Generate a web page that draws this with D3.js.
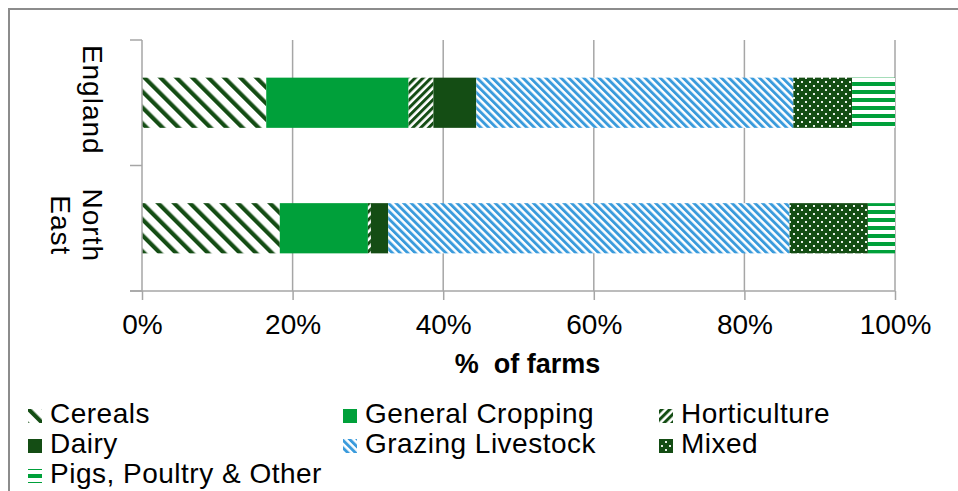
<!DOCTYPE html>
<html>
<head>
<meta charset="utf-8">
<script src="https://cdn.jsdelivr.net/npm/d3@7"></script>
<style>
  html, body { margin: 0; padding: 0; background: #fff; }
  svg { display: block; font-family: "Liberation Sans", Arial, sans-serif; }
</style>
</head>
<body>
<svg id="chart" width="958" height="491"></svg>
<script>
// ---- data ----
const categories = ["England", "North East"];
const categoryLines = [["England"], ["North", "East"]];
const seriesNames = ["Cereals", "General Cropping", "Horticulture", "Dairy", "Grazing Livestock", "Mixed", "Pigs, Poultry & Other"];
const englandValues = [16.5, 18.9, 3.3, 5.7, 42.1, 7.8, 5.7];
const northEastValues = [18.3, 11.7, 0.4, 2.3, 53.3, 10.4, 3.6];
const xTickValues = [0, 20, 40, 60, 80, 100];
const xTickLabels = ["0%", "20%", "40%", "60%", "80%", "100%"];
const xAxisTitle = "%  of farms";

// ---- setup ----
const svg = d3.select("#chart");
const margin = {left: 142, right: 63, top: 40, bottom: 200};
const W = 958, H = 491;

const darkGreen = "#144d14";
const midGreen = "#00a03a";
const blue = "#3a9bdc";

// patterns
const defs = svg.append("defs");
function stripePattern(id, color, period, thick, angle) {
  const p = defs.append("pattern").attr("id", id)
    .attr("patternUnits", "userSpaceOnUse")
    .attr("width", period).attr("height", period)
    .attr("patternTransform", `rotate(${angle})`);
  p.append("rect").attr("width", period).attr("height", period).attr("fill", "#fff");
  p.append("rect").attr("x", 0).attr("y", 0).attr("width", thick).attr("height", period).attr("fill", color);
}
stripePattern("pCereals", darkGreen, 11.3, 4.2, -45);
stripePattern("pHort", darkGreen, 5.6, 3.0, 45);
stripePattern("pGraze", blue, 5.4, 2.9, -45);
{
  const p = defs.append("pattern").attr("id", "pMixed")
    .attr("patternUnits", "userSpaceOnUse").attr("width", 8).attr("height", 8);
  p.append("rect").attr("width", 8).attr("height", 8).attr("fill", darkGreen);
  p.append("rect").attr("x", 1).attr("y", 1).attr("width", 2).attr("height", 2).attr("fill", "#e8efe8");
  p.append("rect").attr("x", 5).attr("y", 5).attr("width", 2).attr("height", 2).attr("fill", "#e8efe8");
}
{
  const p = defs.append("pattern").attr("id", "pPigs")
    .attr("patternUnits", "userSpaceOnUse").attr("width", 8).attr("height", 8).attr("y", 2);
  p.append("rect").attr("width", 8).attr("height", 8).attr("fill", "#fff");
  p.append("rect").attr("y", 0).attr("width", 8).attr("height", 4).attr("fill", midGreen);
}
const fills = ["url(#pCereals)", midGreen, "url(#pHort)", darkGreen, "url(#pGraze)", "url(#pMixed)", "url(#pPigs)"];

// chart border
svg.append("path").attr("d", `M9,${H + 5} L9,9 L${W + 5},9`)
  .attr("fill", "none").attr("stroke", "#8c8c8c").attr("stroke-width", 2);

// scales
const x = d3.scaleLinear().domain([0, 100]).range([margin.left, W - margin.right]);
const y = d3.scaleBand().domain(categories).range([margin.top, H - margin.bottom])
  .paddingInner(0.6).paddingOuter(0.3);

// gridlines
svg.append("g").selectAll("line").data(xTickValues.slice(1)).join("line")
  .attr("x1", d => x(d)).attr("x2", d => x(d))
  .attr("y1", margin.top).attr("y2", H - margin.bottom)
  .attr("stroke", "#a6a6a6").attr("stroke-width", 1.5);

// stacked data
const rows = categories.map((c, i) => {
  const vals = i === 0 ? englandValues : northEastValues;
  const o = {category: c};
  seriesNames.forEach((s, j) => o[s] = vals[j]);
  return o;
});
const stacked = d3.stack().keys(seriesNames)(rows);

svg.append("g").selectAll("g").data(stacked).join("g")
  .attr("fill", (d, i) => fills[i])
  .selectAll("rect").data(d => d).join("rect")
  .attr("x", d => x(d[0]))
  .attr("width", d => x(d[1]) - x(d[0]))
  .attr("y", d => y(d.data.category))
  .attr("height", y.bandwidth());

// x axis
const xAxis = d3.axisBottom(x).tickValues(xTickValues)
  .tickFormat((d, i) => xTickLabels[i]).tickSize(9).tickPadding(14);
const gx = svg.append("g").attr("transform", `translate(0,${H - margin.bottom})`).call(xAxis);
gx.select(".domain").remove();
gx.selectAll(".tick line").attr("stroke", "#a6a6a6").attr("stroke-width", 1.5);
gx.selectAll(".tick text").attr("font-size", 28).attr("fill", "#000")
  .attr("font-family", "Liberation Sans, Arial, sans-serif");
// axis baseline
svg.append("line").attr("x1", margin.left - 12).attr("x2", x(100))
  .attr("y1", H - margin.bottom).attr("y2", H - margin.bottom)
  .attr("stroke", "#a6a6a6").attr("stroke-width", 1.5);

// y axis line + boundary ticks
const [r0, r1] = y.range();
const boundaries = [r0, r0 + (r1 - r0) / 2, r1];
svg.append("line").attr("x1", margin.left).attr("x2", margin.left)
  .attr("y1", r0).attr("y2", r1).attr("stroke", "#a6a6a6").attr("stroke-width", 1.5);
svg.append("g").selectAll("line").data(boundaries).join("line")
  .attr("x1", margin.left - 12).attr("x2", margin.left)
  .attr("y1", d => d).attr("y2", d => d)
  .attr("stroke", "#a6a6a6").attr("stroke-width", 1.5);

// y category labels (rotated)
categories.forEach((c, i) => {
  const cy = y(c) + y.bandwidth() / 2;
  const lines = categoryLines[i];
  const baseX = 83;
  const t = svg.append("text")
    .attr("transform", `translate(${baseX},${cy - 3}) rotate(90)`)
    .attr("text-anchor", "middle").attr("font-size", 28).attr("letter-spacing", 1)
    .attr("fill", "#000");
  lines.forEach((ln, k) => {
    t.append("tspan").attr("x", 0).attr("y", k * 32).text(ln);
  });
});

// x axis title
svg.append("text").attr("x", (x(0) + x(100)) / 2 + 9).attr("y", 373)
  .attr("text-anchor", "middle").attr("font-size", 27).attr("font-weight", "bold")
  .attr("fill", "#000").style("white-space", "pre").text(xAxisTitle);

// legend
const legendCols = [28, 343, 659];
const legendRows = [423, 453, 483];
const lg = svg.append("g");
seriesNames.forEach((s, i) => {
  const col = i % 3, row = Math.floor(i / 3);
  const lx = legendCols[col], ly = legendRows[row];
  lg.append("rect").attr("x", lx).attr("y", ly - 14).attr("width", 14).attr("height", 14)
    .attr("fill", fills[i]);
  lg.append("text").attr("x", lx + 22).attr("y", ly).attr("font-size", 28)
    .attr("letter-spacing", 0.5).attr("fill", "#000").text(s);
});
</script>
</body>
</html>
